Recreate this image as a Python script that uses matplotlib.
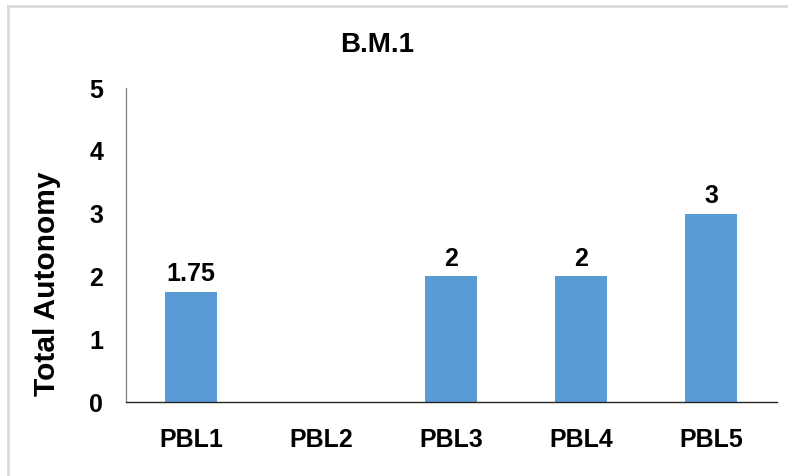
import matplotlib
matplotlib.use('Agg')
import matplotlib.pyplot as plt
from matplotlib.lines import Line2D

# data
categories = ['PBL1', 'PBL2', 'PBL3', 'PBL4', 'PBL5']
values = [1.75, 0, 2, 2, 3]
bar_labels = ['1.75', '', '2', '2', '3']

plt.rcParams['font.family'] = ['Liberation Sans', 'DejaVu Sans']
plt.rcParams['font.weight'] = 'bold'

fig = plt.figure(figsize=(7.88, 4.76), dpi=100)
ax = fig.add_axes([126 / 788, 1 - 402 / 476, 650.5 / 788, 314 / 476])

x = range(len(categories))
bars = ax.bar(x, values, width=0.4, color='#5B9BD5')

# labels above bars
for b, lab in zip(bars, bar_labels):
    if lab:
        ax.annotate(lab, (b.get_x() + b.get_width() / 2, b.get_height()),
                    xytext=(0, 7.7), textcoords='offset points',
                    ha='center', va='baseline', fontsize=18, fontweight='bold')

ax.set_xlim(-0.5, 4.5)
ax.set_ylim(0, 5)
ax.set_yticks([0, 1, 2, 3, 4, 5])
ax.set_xticks(list(x))
ax.set_xticklabels(categories)

ax.tick_params(axis='both', length=0, labelsize=18)
ax.tick_params(axis='y', pad=16.5)
ax.tick_params(axis='x', pad=19)
for t in ax.get_yticklabels() + ax.get_xticklabels():
    t.set_fontweight('bold')

for s in ['top', 'right']:
    ax.spines[s].set_visible(False)
ax.spines['left'].set_color('#7f7f7f')
ax.spines['left'].set_linewidth(0.9)
ax.spines['bottom'].set_color('#262626')
ax.spines['bottom'].set_linewidth(1.0)

fig.text(47 / 788, 1 - 284 / 476, 'Total Autonomy', rotation=90,
         ha='center', va='center', fontsize=21.5, fontweight='bold')

fig.text(377 / 788, 1 - 51.5 / 476, 'B.M.1', ha='center', va='baseline',
         fontsize=20, fontweight='bold')

# light frame of the chart area (top and left edges visible)
fig.add_artist(Line2D([8 / 788, 1], [1 - 6 / 476, 1 - 6 / 476],
                      transform=fig.transFigure, color='#d9d9d9', lw=2))
fig.add_artist(Line2D([8 / 788, 8 / 788], [0, 1 - 6 / 476],
                      transform=fig.transFigure, color='#d9d9d9', lw=2))

fig.savefig('out.png', dpi=100)
